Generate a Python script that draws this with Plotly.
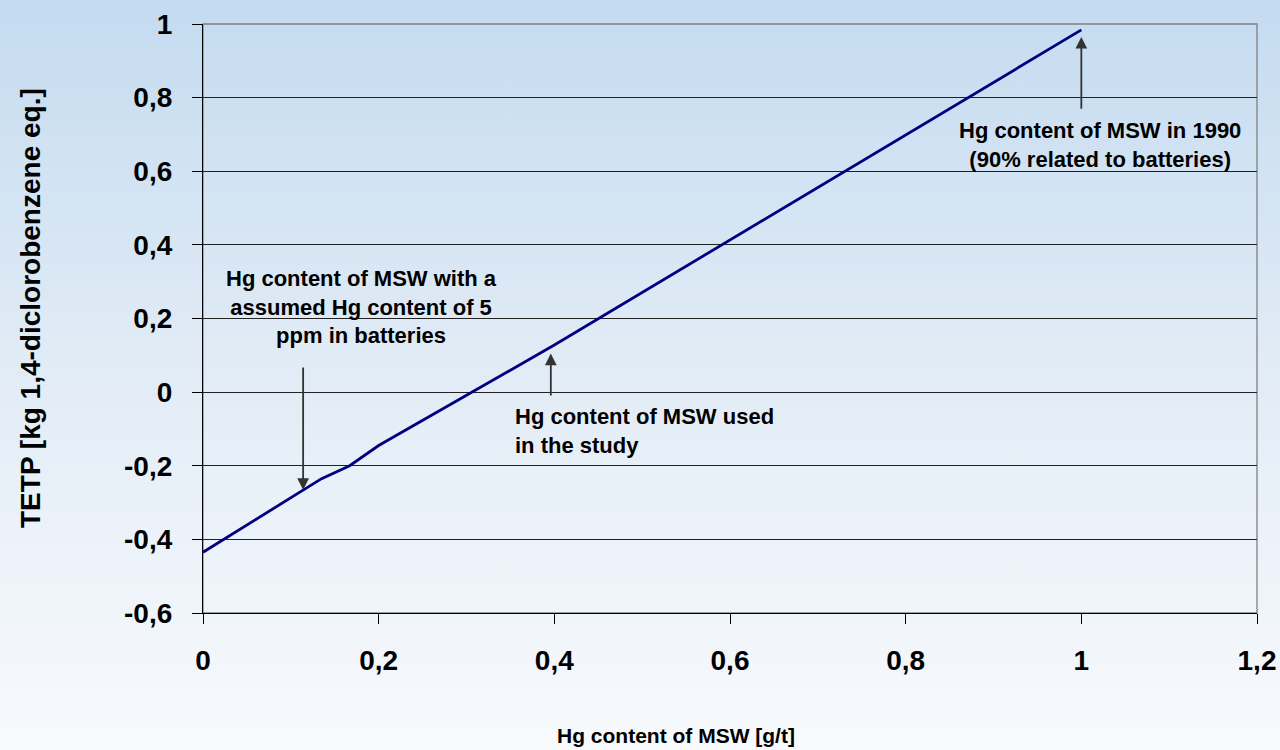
import base64
import plotly.graph_objects as go

# ---- data ----
hg_content = [0, 0.135, 0.167, 0.2, 0.4, 1.0]
tetp = [-0.435, -0.235, -0.2, -0.145, 0.128, 0.984]

x_tickvals = [0, 0.2, 0.4, 0.6, 0.8, 1.0, 1.2]
x_ticktext = ["0", "0,2", "0,4", "0,6", "0,8", "1", "1,2"]
y_tickvals = [-0.6, -0.4, -0.2, 0, 0.2, 0.4, 0.6, 0.8, 1.0]
y_ticktext = ["-0,6", "-0,4", "-0,2", "0", "0,2", "0,4", "0,6", "0,8", "1"]

x_title = "Hg content of MSW [g/t]"
y_title = "TETP [kg 1,4-diclorobenzene eq.]"

note_batteries = "Hg content of MSW with a<br>assumed Hg content of 5<br>ppm in batteries"
note_study = "Hg content of MSW used<br>in the study"
note_1990 = "Hg content of MSW in 1990<br>(90% related to batteries)"

FONT = "Liberation Sans, Arial, sans-serif"

# background gradient as svg
svg = (
    '<svg xmlns="http://www.w3.org/2000/svg" width="100" height="100" preserveAspectRatio="none">'
    '<defs><linearGradient id="g" x1="0" y1="0" x2="0" y2="1">'
    '<stop offset="0" stop-color="#c4dbf0"/>'
    '<stop offset="0.5" stop-color="#e2ecf6"/>'
    '<stop offset="1" stop-color="#f8fafd"/>'
    '</linearGradient></defs>'
    '<rect width="100" height="100" fill="url(#g)"/></svg>'
)
bg_uri = "data:image/svg+xml;base64," + base64.b64encode(svg.encode()).decode()

fig = go.Figure()
fig.add_trace(go.Scatter(
    x=hg_content, y=tetp, mode="lines",
    line=dict(color="#000080", width=2.8),
    showlegend=False, hoverinfo="skip",
))

L, R, T, B = 203, 23, 24, 137
W, H = 1280, 750
pw, ph = W - L - R, H - T - B

fig.update_layout(
    width=W, height=H,
    margin=dict(l=L, r=R, t=T, b=B, autoexpand=False),
    paper_bgcolor="#f8fafd",
    plot_bgcolor="rgba(0,0,0,0)",
    images=[dict(
        source=bg_uri, xref="paper", yref="paper",
        x=-L / pw, y=1 + T / ph, sizex=W / pw, sizey=H / ph,
        sizing="stretch", layer="below", xanchor="left", yanchor="top",
    )],
    xaxis=dict(
        range=[0, 1.2], tickvals=x_tickvals, ticktext=x_ticktext,
        showgrid=False, zeroline=False, automargin=False,
        showline=True, linecolor="#000", linewidth=1.3,
        ticks="outside", ticklen=10, tickcolor="#000", tickwidth=1.3,
        tickfont=dict(family=FONT, size=28, color="#000", weight="bold"),
        ticklabelstandoff=12,
    ),
    yaxis=dict(
        range=[-0.6, 1.0], tickvals=y_tickvals, ticktext=y_ticktext,
        showgrid=True, gridcolor="#222", gridwidth=1.2, zeroline=False, automargin=False,
        showline=True, linecolor="#000", linewidth=1.3,
        ticks="outside", ticklen=10, tickcolor="#000", tickwidth=1.3,
        tickfont=dict(family=FONT, size=28, color="#000", weight="bold"),
        ticklabelstandoff=14,
    ),
    shapes=[dict(
        type="rect", xref="paper", yref="paper", x0=0, y0=0, x1=1, y1=1,
        line=dict(color="#808080", width=1.3), layer="below",
    )],
)

arrow_style = dict(showarrow=True, arrowhead=2, arrowsize=1.3, arrowwidth=1.8,
                   arrowcolor="#333", axref="x", ayref="y", text="")
fig.add_annotation(x=0.114, y=-0.266, ax=0.114, ay=0.071, **arrow_style)
fig.add_annotation(x=0.396, y=0.105, ax=0.396, ay=-0.013, **arrow_style)
fig.add_annotation(x=1.0, y=0.965, ax=1.0, ay=0.766, **arrow_style)

note_font = dict(family=FONT, size=22, color="#000", weight="bold")
fig.add_annotation(x=0.18, y=0.231, text=note_batteries, showarrow=False,
                   xanchor="center", yanchor="middle", align="center", font=note_font)
fig.add_annotation(x=0.353, y=-0.106, text=note_study, showarrow=False,
                   xanchor="left", yanchor="middle", align="left", font=note_font)
fig.add_annotation(x=1.021, y=0.671, text=note_1990, showarrow=False,
                   xanchor="center", yanchor="middle", align="center", font=note_font)

fig.add_annotation(x=(676 - L) / pw, y=(H - B - 735) / ph, xref="paper", yref="paper",
                   text=x_title, showarrow=False, xanchor="center", yanchor="middle",
                   font=dict(family=FONT, size=21, color="#000", weight="bold"))
fig.add_annotation(x=(30 - L) / pw, y=(H - B - 308) / ph, xref="paper", yref="paper",
                   text=y_title, showarrow=False, textangle=-90,
                   xanchor="center", yanchor="middle",
                   font=dict(family=FONT, size=28, color="#000", weight="bold"))

fig.write_html(
    "out.html",
    config={"displayModeBar": False},
    post_script="document.body.style.margin='0';document.body.style.overflow='hidden';",
)
